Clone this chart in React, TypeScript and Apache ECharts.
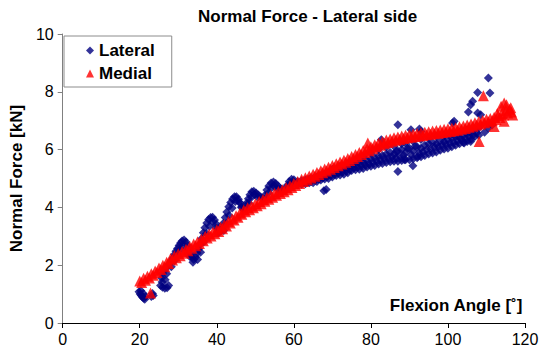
import React, { useEffect, useRef } from "react";
import * as echarts from "echarts";

const chartTitle = "Normal Force - Lateral side";
const xAxisName = "Flexion Angle [˚]";
const yAxisName = "Normal Force [kN]";
const xTicks = [0, 20, 40, 60, 80, 100, 120];
const yTicks = [0, 2, 4, 6, 8, 10];

// Lateral: [flexion angle, normal force]
const lateralStart = [
  [19.8, 1.08], [20.1, 1.0], [20.4, 0.95], [20.7, 0.9], [21.0, 0.86], [21.3, 0.82], [20.3, 1.12], [20.9, 1.02],
  [21.5, 0.92], [23.0, 0.92], [23.3, 1.02], [23.5, 0.95],
];
const lateralWaves = [
  [25.4, 1.3], [25.9, 1.24], [26.5, 1.2], [27.1, 1.22], [27.5, 1.3], [25.8, 1.42], [25.7, 1.56], [25.9, 1.7],
  [26.4, 1.82], [27.0, 1.92], [27.6, 2.02], [28.1, 2.13], [28.6, 2.25], [29.0, 2.37], [29.4, 2.48], [29.8, 2.58],
  [30.2, 2.68], [30.6, 2.77], [31.0, 2.84], [31.5, 2.87], [32.0, 2.8], [32.4, 2.68], [32.8, 2.54], [33.2, 2.4],
  [33.6, 2.28], [34.0, 2.2], [34.5, 2.28], [34.9, 2.42], [35.3, 2.56], [35.7, 2.73], [36.1, 2.92], [36.5, 3.12],
  [36.9, 3.3], [37.4, 3.46], [37.9, 3.58], [38.4, 3.65], [38.9, 3.66], [39.4, 3.56], [39.9, 3.42], [40.4, 3.28],
  [40.9, 3.18], [41.3, 3.28], [41.7, 3.45], [42.2, 3.65], [42.6, 3.84], [43.1, 4.02], [43.6, 4.17], [44.1, 4.29],
  [44.6, 4.37], [45.1, 4.37], [45.6, 4.28], [46.1, 4.15], [46.5, 4.02], [47.0, 3.93], [47.4, 4.02], [47.8, 4.16],
  [48.2, 4.3], [48.6, 4.44], [49.1, 4.54], [49.6, 4.56], [50.2, 4.5], [50.8, 4.43], [51.4, 4.36], [52.0, 4.3],
  [52.5, 4.42], [53.0, 4.6], [53.5, 4.74], [54.1, 4.84], [54.7, 4.88], [55.3, 4.83], [55.9, 4.74], [56.5, 4.66],
  [57.1, 4.6], [57.7, 4.63], [58.3, 4.77], [58.8, 4.9], [59.4, 4.97], [60.0, 4.96],
  [26.6, 1.5], [27.0, 1.7], [28.2, 1.95], [29.0, 2.15], [29.8, 2.35], [30.6, 2.55], [31.3, 2.7], [32.3, 2.55],
  [33.0, 2.3], [33.8, 2.1], [35.0, 2.2], [35.8, 2.45], [36.6, 2.8], [37.3, 3.1], [38.1, 3.35], [39.0, 3.5],
  [39.8, 3.3], [40.5, 3.12], [41.8, 3.2], [42.5, 3.45], [43.2, 3.72], [44.0, 3.98], [44.8, 4.2], [45.6, 4.2],
  [46.4, 4.0], [47.6, 3.95], [48.3, 4.15], [49.0, 4.35], [49.8, 4.45], [50.6, 4.35], [52.6, 4.3], [53.4, 4.5],
  [54.2, 4.68], [55.0, 4.72], [56.0, 4.62], [58.0, 4.62], [58.8, 4.78], [59.6, 4.85],
];
const lateralBand = [
  [61, 4.78], [61, 4.9], [61.5, 4.84], [62, 4.8], [62, 4.92], [62.5, 4.86], [63, 4.82], [63, 4.95], [63.5, 4.88],
  [64, 4.85], [64, 4.98], [64.5, 4.9], [65, 4.85], [65, 5.0], [65.5, 4.94], [66, 4.9], [66, 5.05], [66.5, 4.98],
  [67, 4.95], [67, 5.1], [67.5, 5.02], [68, 4.98], [68, 5.15], [68.5, 5.06], [69, 5.0], [69, 5.2], [69.5, 5.1],
  [70, 5.05], [70, 5.22], [70, 5.32], [70.5, 5.14], [71, 5.1], [71, 5.28], [71.5, 5.2], [72, 5.12], [72, 5.3],
  [72, 5.42], [72.5, 5.22], [73, 5.15], [73, 5.35], [73.5, 5.26], [74, 5.2], [74, 5.38], [74, 5.5], [74.5, 5.3],
  [75, 5.28], [75, 5.45], [75.5, 5.36], [76, 5.3], [76, 5.5], [76, 5.62], [76.5, 5.4], [77, 5.32], [77, 5.55],
  [77.5, 5.44], [78, 5.35], [78, 5.58], [78, 5.75], [78.5, 5.47], [79, 5.4], [79, 5.62], [79.5, 5.5], [80, 5.42],
  [80, 5.68], [80, 5.88], [80.5, 5.55], [81, 5.45], [81, 5.72], [81.5, 5.6], [82, 5.5], [82, 5.78], [82, 6.0],
  [82.5, 5.64], [83, 5.52], [83, 5.8], [83.5, 5.68], [84, 5.55], [84, 5.85], [84, 6.08], [84.5, 5.7], [85, 5.58],
  [85, 5.9], [85.5, 5.74], [86, 5.6], [86, 5.85], [86, 6.12], [86.5, 5.72], [87, 5.6], [87, 5.95], [87.5, 5.78],
  [88, 5.62], [88, 6.0], [88, 6.2], [88.5, 5.8], [89, 5.65], [89, 5.9], [89, 6.22], [89.5, 6.05], [90, 5.65],
  [90, 6.05], [90.5, 5.82], [91, 5.68], [91, 5.95], [91, 6.28], [91.5, 6.12], [92, 5.72], [92, 6.1], [92.5, 5.88],
  [93, 5.75], [93, 6.05], [93, 6.35], [93.5, 5.92], [94, 5.8], [94, 6.15], [94.5, 6.0], [95, 5.85], [95, 6.2],
  [95, 6.4], [95.5, 6.02], [96, 5.88], [96, 6.25], [96.5, 6.08], [97, 5.92], [97, 6.2], [97, 6.45], [97.5, 6.1],
  [98, 5.98], [98, 6.3], [98.5, 6.15], [99, 6.02], [99, 6.28], [99, 6.48], [99.5, 6.18], [100, 6.05], [100, 6.35],
  [100.5, 6.22], [101, 6.1], [101, 6.4], [101, 6.55], [101.5, 6.25], [102, 6.15], [102, 6.45], [102.5, 6.3],
  [103, 6.2], [103, 6.42], [103, 6.6], [103.5, 6.35], [104, 6.25], [104, 6.5], [104.5, 6.38], [105, 6.28],
  [105, 6.55], [105, 6.68], [105.5, 6.45], [106, 6.35], [106, 6.6], [106.5, 6.5], [107, 6.45], [107, 6.7],
  [107.5, 6.58], [108, 6.5], [108, 6.75],
];
const lateralOutliers = [
  [67.8, 4.58], [68.4, 4.62], [82.7, 6.34], [87.0, 6.86], [87.0, 5.24], [86.6, 5.94], [88.7, 5.65], [90.4, 6.69],
  [92.6, 6.71], [90.9, 5.44], [92.2, 5.76], [93.0, 6.63], [101.2, 6.92], [101.6, 6.98], [104.2, 6.23], [105.3, 7.3],
  [105.9, 7.55], [106.4, 7.67], [107.7, 7.98], [110.5, 8.48], [110.9, 7.96], [108.5, 7.21], [107.7, 7.27],
  [105.9, 6.28], [109.5, 6.6], [110.5, 6.75], [111.5, 6.85],
];

// Medial: [flexion angle, normal force]
const medialCurve = [
  [20, 1.45], [20.5, 1.4], [21, 1.55], [21.5, 1.48], [22, 1.62], [22.5, 1.56], [23, 1.7], [23.5, 1.65],
  [24, 1.8], [24.5, 1.75], [25, 1.9], [25.5, 1.85], [26, 2.0], [26.5, 1.95], [27, 2.1], [27.5, 2.06],
  [28, 2.23], [28.5, 2.18], [29, 2.33], [29.5, 2.26], [30, 2.4], [30.5, 2.33], [31, 2.47], [31.5, 2.41],
  [32, 2.55], [32.5, 2.5], [33, 2.65], [33.5, 2.59], [34, 2.73], [34.5, 2.67], [35, 2.81], [35.5, 2.75],
  [36, 2.9], [36.5, 2.85], [37, 3.0], [37.5, 2.94], [38, 3.08], [38.5, 3.01], [39, 3.15], [39.5, 3.09],
  [40, 3.23], [40.5, 3.17], [41, 3.31], [41.5, 3.26], [42, 3.41], [42.5, 3.36], [43, 3.51], [43.5, 3.46],
  [44, 3.61], [44.5, 3.56], [45, 3.71], [45.5, 3.66], [46, 3.81], [46.5, 3.76], [47, 3.91], [47.5, 3.85],
  [48, 3.99], [48.5, 3.92], [49, 4.05], [49.5, 3.99], [50, 4.13], [50.5, 4.06], [51, 4.2], [51.5, 4.13],
  [52, 4.27], [52.5, 4.21], [53, 4.35], [53.5, 4.28], [54, 4.42], [54.5, 4.35], [55, 4.49], [55.5, 4.42],
  [56, 4.55], [56.5, 4.48], [57, 4.61], [57.5, 4.54], [58, 4.68], [58.5, 4.61], [59, 4.75], [59.5, 4.69],
  [60, 4.83], [60.5, 4.76], [61, 4.9], [61.5, 4.83], [62, 4.97], [62.5, 4.9], [63, 5.03], [63.5, 4.96],
  [64, 5.09], [64.5, 5.02], [65, 5.15], [65.5, 5.08], [66, 5.21], [66.5, 5.14], [67, 5.27], [67.5, 5.2],
  [68, 5.33], [68.5, 5.26], [69, 5.39], [69.5, 5.32], [70, 5.45], [70.5, 5.38], [71, 5.51], [71.5, 5.44],
  [72, 5.57], [72.5, 5.5], [73, 5.63], [73.5, 5.56], [74, 5.69], [74.5, 5.62], [75, 5.76], [75.5, 5.69],
  [76, 5.83], [76.5, 5.76], [77, 5.9], [77.5, 5.83], [78, 5.97], [78.5, 5.9], [79, 6.03], [79.5, 5.96],
  [80, 6.1], [80.5, 6.03], [81, 6.17], [81.5, 6.1], [82, 6.23], [82.5, 6.15], [83, 6.28], [83.5, 6.2],
  [84, 6.33], [84.5, 6.25], [85, 6.37], [85.5, 6.29], [86, 6.41], [86.5, 6.32], [87, 6.44], [87.5, 6.35],
  [88, 6.47], [88.5, 6.38], [89, 6.5], [89.5, 6.41], [90, 6.52], [90.5, 6.43], [91, 6.54], [91.5, 6.45],
  [92, 6.56], [92.5, 6.47], [93, 6.58], [93.5, 6.49], [94, 6.6], [94.5, 6.51], [95, 6.62], [95.5, 6.53],
  [96, 6.64], [96.5, 6.55], [97, 6.66], [97.5, 6.57], [98, 6.68], [98.5, 6.59], [99, 6.7], [99.5, 6.61],
  [100, 6.72], [100.5, 6.63], [101, 6.74], [101.5, 6.65], [102, 6.76], [102.5, 6.67], [103, 6.79], [103.5, 6.7],
  [104, 6.82], [104.5, 6.73], [105, 6.85], [105.5, 6.77], [106, 6.89], [106.5, 6.81], [107, 6.93], [107.5, 6.85],
  [108, 6.97], [108.5, 6.89], [109, 7.01], [109.5, 6.93], [110, 7.05], [110.5, 6.96], [111, 7.08], [111.5, 7.0],
  [112, 7.12], [112.5, 7.04], [113, 7.17], [113.5, 7.11], [114, 7.25], [114.5, 7.2], [115, 7.35], [115.5, 7.27],
  [116, 7.4], [116.5, 7.3],
];
const medialOutliers = [
  [22.8, 1.04], [79.2, 6.23], [109.2, 7.86], [108.1, 6.28], [112.0, 6.8], [114.6, 6.98], [114.6, 7.61],
  [116.3, 7.45], [113.8, 7.5], [115.2, 7.55], [116.8, 7.2], [112.8, 7.25],
];

const lateralData = [...lateralStart, ...lateralWaves, ...lateralBand, ...lateralOutliers];
const medialData = [...medialCurve, ...medialOutliers];

const FONT = "'Liberation Sans', Arial, Helvetica, sans-serif";

export default function App() {
  const ref = useRef<HTMLDivElement>(null);
  useEffect(() => {
    if (!ref.current) return;
    const chart = echarts.init(ref.current, undefined, { renderer: "svg" });
    chart.setOption({
      animation: false,
      backgroundColor: "#ffffff",
      textStyle: { fontFamily: FONT },
      title: {
        text: chartTitle,
        left: 198,
        top: 8,
        padding: 0,
        textStyle: { fontFamily: FONT, fontSize: 17, fontWeight: "bold", color: "#000" },
      },
      legend: {
        orient: "vertical",
        left: 64,
        top: 36,
        padding: [6, 17, 5, 22],
        itemWidth: 8,
        itemHeight: 8,
        itemGap: 6,
        borderColor: "#8c8c8c",
        borderWidth: 1,
        backgroundColor: "#fff",
        textStyle: { fontFamily: FONT, fontSize: 17, fontWeight: "bold", color: "#000" },
        data: [
          { name: "Lateral", icon: "diamond" },
          { name: "Medial", icon: "triangle" },
        ],
      },
      grid: { left: 59, right: 17, top: 34, bottom: 37, containLabel: false },
      xAxis: {
        type: "value",
        min: xTicks[0],
        max: xTicks[xTicks.length - 1],
        interval: 20,
        axisLine: { show: true, lineStyle: { color: "#000", width: 1 } },
        axisTick: { show: true, length: 5, lineStyle: { color: "#000" } },
        axisLabel: { fontFamily: FONT, fontSize: 16, color: "#000", margin: 8 },
        splitLine: { show: false },
      },
      yAxis: {
        type: "value",
        min: yTicks[0],
        max: yTicks[yTicks.length - 1],
        interval: 2,
        name: yAxisName,
        nameLocation: "middle",
        nameRotate: 90,
        nameGap: 32,
        nameTextStyle: { fontFamily: FONT, fontSize: 17, fontWeight: "bold", color: "#000" },
        axisLine: { show: true, lineStyle: { color: "#808080", width: 1 } },
        axisTick: { show: true, length: 5, lineStyle: { color: "#808080" } },
        axisLabel: { fontFamily: FONT, fontSize: 16, color: "#000", margin: 9 },
        splitLine: { show: false },
      },
      graphic: [
        {
          type: "text",
          right: 19,
          top: 297,
          style: {
            text: xAxisName,
            fill: "#000",
            font: `bold 17px ${FONT}`,
          },
        },
      ],
      series: [
        {
          name: "Lateral",
          type: "scatter",
          symbol: "diamond",
          symbolSize: 9,
          itemStyle: { color: "#000080" },
          data: lateralData,
          clip: false,
        },
        {
          name: "Medial",
          type: "scatter",
          symbol: "triangle",
          symbolSize: 11,
          itemStyle: { color: "#ff0000" },
          data: medialData,
          clip: false,
        },
      ],
    });
    return () => chart.dispose();
  }, []);
  return (
    <div
      ref={ref}
      style={{ position: "fixed", left: 0, top: 0, width: 542, height: 360, background: "#fff" }}
    />
  );
}
